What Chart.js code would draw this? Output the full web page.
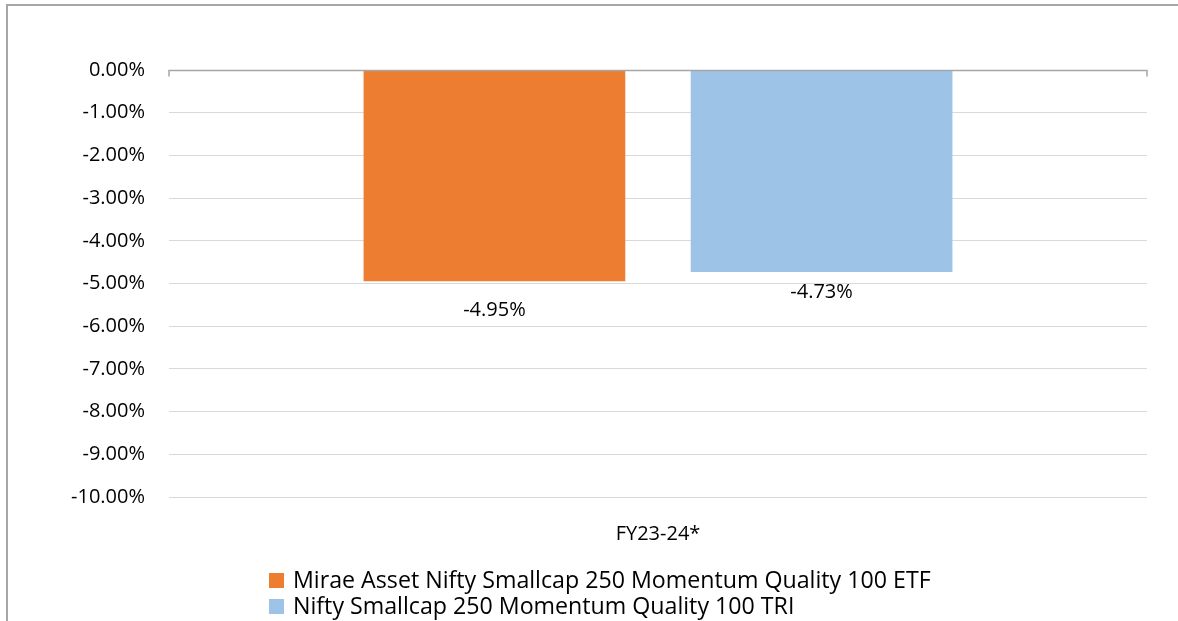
<!DOCTYPE html>
<html>
<head>
<meta charset="utf-8">
<script src="https://cdn.jsdelivr.net/npm/chart.js@4.4.0/dist/chart.umd.min.js"></script>
<style>
  html, body { margin: 0; padding: 0; background: #fff; }
  #frame {
    position: absolute; left: 6px; top: 4px; width: 1172px; height: 617px;
    border-left: 2px solid #a6a6a6; border-top: 2px solid #a6a6a6;
    box-sizing: border-box;
  }
  #wrap { position: absolute; left: 0; top: 0; width: 1178px; height: 621px; }
</style>
</head>
<body>
<div id="frame"></div>
<div id="wrap"><canvas id="chart" width="1178" height="621"></canvas></div>
<script>
// Data
const categories = ['FY23-24*'];
const seriesNames = [
  'Mirae Asset Nifty Smallcap 250 Momentum Quality 100 ETF',
  'Nifty Smallcap 250 Momentum Quality 100 TRI'
];
const etfReturns = [-4.95];
const indexReturns = [-4.73];
const yTicks = [0, -1, -2, -3, -4, -5, -6, -7, -8, -9, -10];

const FONT = '"Open Sans", Lato, sans-serif';
const pct = v => v.toFixed(2) + '%';

// value labels under the end of each bar
const valueLabels = {
  id: 'valueLabels',
  afterDatasetsDraw(chart, args, opts) {
    const ctx = chart.ctx;
    ctx.save();
    ctx.font = '20px ' + FONT;
    ctx.fillStyle = '#000';
    ctx.textAlign = 'center';
    ctx.textBaseline = 'middle';
    chart.data.datasets.forEach((ds, i) => {
      chart.getDatasetMeta(i).data.forEach((bar, j) => {
        ctx.fillText(pct(ds.data[j]), bar.x, bar.y + opts.offsets[i]);
      });
    });
    ctx.restore();
  }
};

// darker zero line with small ticks at its ends
const zeroAxis = {
  id: 'zeroAxis',
  afterDatasetsDraw(chart) {
    const ctx = chart.ctx;
    const area = chart.chartArea;
    const y = Math.round(chart.scales.y.getPixelForValue(0)) + 0.5;
    ctx.save();
    ctx.strokeStyle = '#a6a6a6';
    ctx.lineWidth = 1.5;
    ctx.beginPath();
    ctx.moveTo(area.left, y + 6);
    ctx.lineTo(area.left, y);
    ctx.lineTo(area.right, y);
    ctx.lineTo(area.right, y + 6);
    ctx.stroke();
    ctx.restore();
  }
};

// legend block: left aligned rows below the axis label
const blockLegend = {
  id: 'blockLegend',
  afterDraw(chart, args, opts) {
    const ctx = chart.ctx;
    const area = chart.chartArea;
    ctx.save();
    ctx.font = '23.2px ' + FONT;
    ctx.textBaseline = 'middle';
    ctx.textAlign = 'left';
    const widths = chart.data.datasets.map(ds => ctx.measureText(ds.label).width);
    const blockW = 24 + Math.max(...widths);
    const x0 = Math.round(chart.width / 2 - blockW / 2 + opts.shift);
    chart.data.datasets.forEach((ds, i) => {
      const y = area.bottom + opts.firstRow + i * opts.rowGap;
      ctx.fillStyle = ds.backgroundColor;
      ctx.fillRect(x0, y - 7, 15, 15);
      ctx.fillStyle = '#000';
      ctx.fillText(ds.label, x0 + 24, y + 1);
    });
    ctx.restore();
  }
};

new Chart(document.getElementById('chart'), {
  type: 'bar',
  data: {
    labels: categories,
    datasets: [
      { label: seriesNames[0], data: etfReturns, backgroundColor: '#ED7D31' },
      { label: seriesNames[1], data: indexReturns, backgroundColor: '#9DC3E6' }
    ]
  },
  options: {
    responsive: false,
    animation: false,
    categoryPercentage: 0.669,
    barPercentage: 0.8,
    layout: { padding: { top: 70, right: 31, left: 0, bottom: 0 } },
    plugins: {
      legend: { display: false },
      tooltip: { enabled: false },
      valueLabels: { offsets: [29, 20] },
      blockLegend: { firstRow: 83, rowGap: 26, shift: 11 }
    },
    scales: {
      x: {
        grid: { display: false },
        border: { display: false },
        ticks: { color: '#000', font: { family: FONT, size: 20 }, padding: 17 },
        afterFit: s => { s.height = 124; }
      },
      y: {
        min: -10,
        max: 0,
        afterBuildTicks: s => { s.ticks = yTicks.map(v => ({ value: v })); },
        grid: { color: '#d9d9d9', drawTicks: false },
        border: { display: false },
        ticks: {
          color: '#000',
          font: { family: FONT, size: 20 },
          padding: 24,
          callback: v => pct(v)
        },
        afterFit: s => { s.width = 169; }
      }
    }
  },
  plugins: [valueLabels, zeroAxis, blockLegend]
});
</script>
</body>
</html>
